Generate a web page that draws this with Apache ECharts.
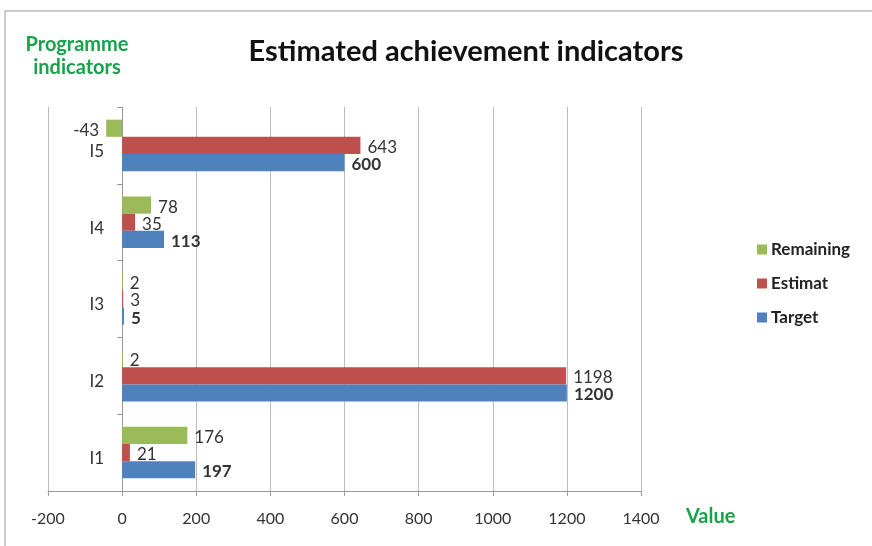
<!DOCTYPE html>
<html>
<head>
<meta charset="utf-8">
<script src="https://cdn.jsdelivr.net/npm/echarts@6/dist/echarts.min.js"></script>
<style>
  html, body { margin: 0; padding: 0; background: #fff; }
  #chart { width: 872px; height: 546px; }
</style>
</head>
<body>
<div id="chart"></div>
<script>
const categories = ['I1', 'I2', 'I3', 'I4', 'I5']
const targetValues = [197, 1200, 5, 113, 600]
const estimatValues = [21, 1198, 3, 35, 643]
const remainingValues = [176, 2, 2, 78, -43]
const xTicks = { min: -200, max: 1400, interval: 200 }

const font = 'Lato, "Open Sans", sans-serif'

// negative bars get their label on the left side
const withLabels = (values, bold) =>
  values.map((v) => ({
    value: v,
    label: {
      position: v < 0 ? 'left' : 'right',
      fontWeight: bold ? 'bold' : 'normal',
    },
  }))

const chart = echarts.init(document.getElementById('chart'))

const barLabel = {
  show: true,
  color: '#333',
  fontSize: 17,
  fontFamily: font,
  distance: 7,
  offset: [0, 2],
}

chart.setOption({
  animation: false,
  title: {
    text: 'Estimated achievement indicators',
    left: 461,
    textAlign: 'center',
    top: 32,
    textStyle: { fontFamily: font, fontSize: 29, fontWeight: 'bold', color: '#111' },
  },
  graphic: [
    {
      type: 'rect',
      shape: { x: 5, y: 11, width: 900, height: 600 },
      style: { fill: 'none', stroke: '#9a9a9a', lineWidth: 1 },
    },
    {
      type: 'text',
      x: 77,
      y: 33,
      style: {
        text: 'Programme\nindicators',
        fill: '#16a34a',
        font: 'bold 20px ' + font,
        lineHeight: 23,
        align: 'center',
      },
    },
    {
      type: 'text',
      left: 686,
      top: 507,
      style: { text: 'Value', fill: '#16a34a', font: 'bold 20px ' + font },
    },
  ],
  legend: {
    orient: 'vertical',
    left: 752,
    top: 236,
    itemWidth: 10,
    itemHeight: 10,
    itemGap: 17,
    icon: 'rect',
    data: ['Remaining', 'Estimat', 'Target'],
    textStyle: { fontFamily: font, fontSize: 17, fontWeight: 'bold', color: '#222', padding: [0, 0, 0, -1] },
  },
  grid: { left: 48, right: 231, top: 107, bottom: 55 },
  xAxis: {
    type: 'value',
    min: xTicks.min,
    max: xTicks.max,
    interval: xTicks.interval,
    axisLine: { show: true, lineStyle: { color: '#999' } },
    axisTick: { show: true, length: 5, lineStyle: { color: '#999' } },
    axisLabel: { color: '#333', fontSize: 16, fontFamily: font, margin: 20, formatter: (v) => String(v) },
    splitLine: { show: true, lineStyle: { color: '#bdbdbd' } },
  },
  yAxis: {
    type: 'category',
    data: categories,
    axisLine: { show: true, onZero: true, lineStyle: { color: '#999' } },
    axisTick: { show: true, length: 5, lineStyle: { color: '#999' } },
    axisLabel: {
      color: '#333', fontSize: 17, fontFamily: font, margin: -56,
      verticalAlign: 'top', lineHeight: 12,
    },
  },
  series: [
    {
      name: 'Remaining',
      type: 'bar',
      data: withLabels(remainingValues, false),
      barGap: '0%',
      barCategoryGap: '33%',
      itemStyle: { color: '#9bbb59' },
      label: barLabel,
    },
    {
      name: 'Estimat',
      type: 'bar',
      data: withLabels(estimatValues, false),
      itemStyle: { color: '#c0504d' },
      label: barLabel,
    },
    {
      name: 'Target',
      type: 'bar',
      data: withLabels(targetValues, true),
      itemStyle: { color: '#4f81bd' },
      label: barLabel,
    },
  ],
})
</script>
</body>
</html>
